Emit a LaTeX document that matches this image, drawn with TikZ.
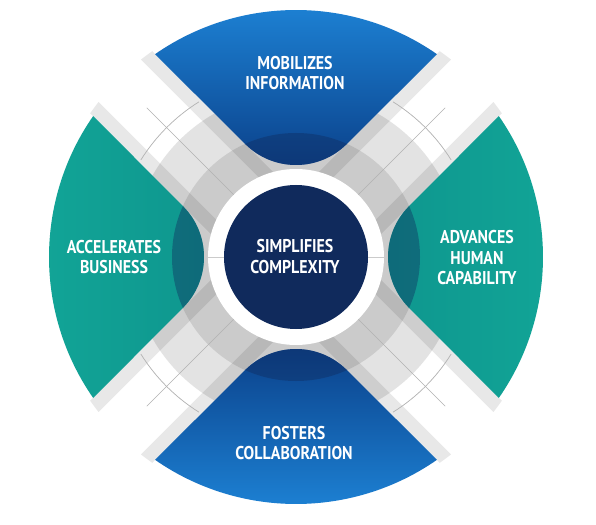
\documentclass[tikz,border=0pt]{standalone}
\usepackage{fontspec}
\newfontfamily\labfont{PT Sans}[FakeStretch=0.86]
\usetikzlibrary{calc}
\definecolor{navy}{HTML}{102A5C}
\definecolor{blueL}{HTML}{1E85D8}
\definecolor{blueD}{HTML}{0A3F88}
\definecolor{tealL}{HTML}{12A597}
\definecolor{tealD}{HTML}{0E968E}
\definecolor{ringL}{HTML}{E3E3E3}
\definecolor{ringM}{HTML}{CBCBCB}
\definecolor{lineG}{HTML}{B2B2B2}
\newcommand\secpath[1]{([shift={(#1:164)}]#1+135:72) arc[start angle=#1+135, end angle=#1+225, radius=72] -- (#1-34.8:247) arc[start angle=#1-34.8, end angle=#1+34.8, radius=247] -- cycle}
\begin{document}
\begin{tikzpicture}[x=1pt,y=1pt,
  lab/.style={text=white, font=\labfont\bfseries\fontsize{18.5}{20.5}\selectfont, align=center, inner sep=0pt},
  stripe/.style={fill=black, opacity=0.09},
  fineline/.style={draw=lineG, line width=0.7pt},
  capshade/.style={fill=navy, opacity=0.4}]
\useasboundingbox (-296,-267) rectangle (300,257);
\fill[white] (-296,-267) rectangle (300,257);
% concentric grey rings
\fill[ringL] (0,0) circle[radius=165];
\fill[ringM] (0,0) circle[radius=124];
% stripes along the sector edges
\begin{scope}
  \clip (0,0) circle[radius=251];
  \foreach \a in {45,135,225,315}{
    \fill[stripe, rotate=\a] (0,30) rectangle (262,44);
    \fill[stripe, rotate=\a] (0,-44) rectangle (262,-30);
  }
\end{scope}
% fine lines
\foreach \a in {45,135,225,315}{
  \draw[fineline] (\a:88) -- (\a:211);
  \draw[fineline] (\a-13:183) arc[start angle=\a-13, end angle=\a+13, radius=183];
}
% sectors
\shade[top color=blueL, bottom color=blueD] \secpath{90};
\shade[bottom color=blueL, top color=blueD] \secpath{270};
\shade[left color=tealL, right color=tealD] \secpath{180};
\shade[right color=tealL, left color=tealD] \secpath{0};
\foreach \a in {0,90,180,270}{
  \begin{scope}
    \clip \secpath{\a};
    \fill[capshade] (0,0) circle[radius=124];
  \end{scope}
}
% centre
\fill[white] (0,0) circle[radius=88];
\fill[navy] (0,0) circle[radius=72];
\draw[draw=ringM, line width=0.6pt] (-72,0) -- (-92,0);
\draw[draw=ringM, line width=0.6pt] (72,0) -- (92,0);
% labels
\node[lab] (mob) at (-1,184) {MOBILIZES\\INFORMATION};
\node[lab] (acc) at (-182,0) {ACCELERATES\\BUSINESS};
\node[lab] (sim) at (-1,0.5) {SIMPLIFIES\\COMPLEXITY};
\node[lab] (adv) at (181,-1) {ADVANCES\\HUMAN\\CAPABILITY};
\node[lab] (fos) at (-2,-186) {FOSTERS\\COLLABORATION};
\end{tikzpicture}
\end{document}
